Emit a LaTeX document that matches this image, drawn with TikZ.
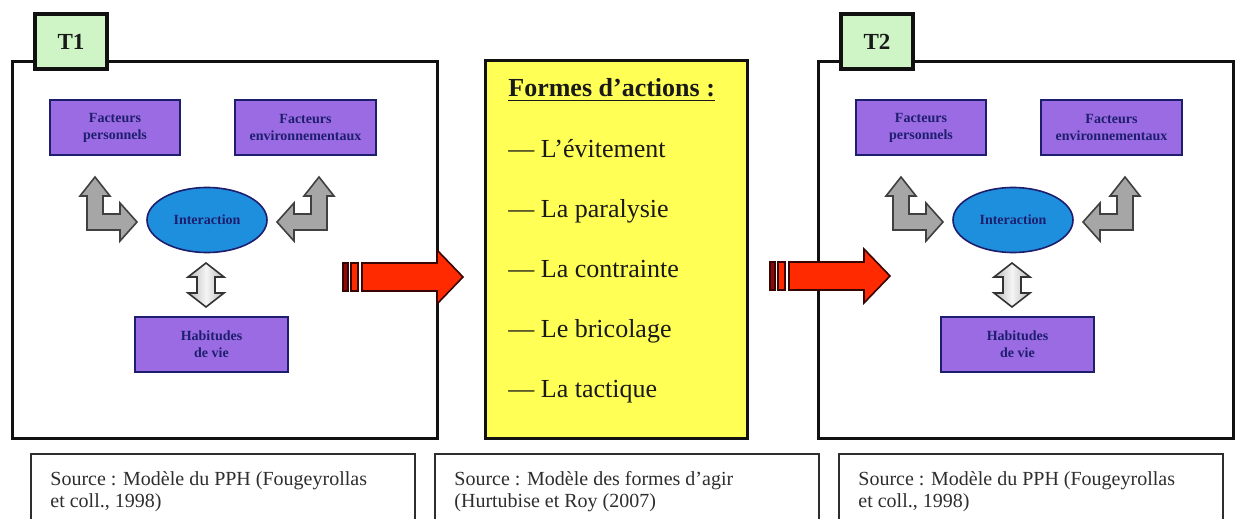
\documentclass[tikz,border=0pt]{standalone}
\usepackage{fontspec}
\setmainfont{Liberation Serif}
\usetikzlibrary{positioning,fit,shapes.geometric}
\definecolor{pphFrame}{HTML}{111111}
\definecolor{pphTab}{HTML}{CFF5C6}
\definecolor{pphPurple}{HTML}{9B6BE3}
\definecolor{pphNavy}{HTML}{1E1E6E}
\definecolor{pphBlue}{HTML}{1E8FDD}
\definecolor{pphGray}{HTML}{A6A6A6}
\definecolor{pphYellow}{HTML}{FFFF55}
\definecolor{pphRed}{HTML}{FF2A00}
\definecolor{pphDark}{HTML}{8C0A0A}
\definecolor{pphText}{HTML}{2E2E2E}
\tikzset{
  bentarrow/.pic={
    \path[bent] (-112,-43) -- (-97,-24) -- (-104,-24) -- (-104,-6) -- (-87,-6) -- (-87,-17)
      -- (-70,2) -- (-87,21) -- (-87,10) -- (-120,10) -- (-120,-24) -- (-127,-24) -- cycle;
  },
  twoway/.pic={
    \path[updown] (0,-22) -- (18,-8) -- (9,-8) -- (9,8) -- (18,8) -- (0,22)
      -- (-18,8) -- (-9,8) -- (-9,-8) -- (-18,-8) -- cycle;
  },
  bigarrow/.pic={
    \path[redpart, fill=pphDark] (0,-14) rectangle (5,14);
    \path[redpart] (8,-14) rectangle (15,14);
    \path[redpart] (19,-14) -- (94,-14) -- (94,-27) -- (120,0) -- (94,27) -- (94,14) -- (19,14) -- cycle;
  }
}

\begin{document}
\begin{tikzpicture}[
  x=0.5pt, y=-0.5pt,
  frame/.style={draw=pphFrame, line width=1.5pt, fill=white, inner sep=0pt},
  tab/.style={draw=pphFrame, line width=1.6pt, fill=pphTab, inner sep=0pt, minimum width=36pt, minimum height=27.5pt, text=black!90, font=\fontsize{11.5}{13}\selectfont\bfseries},
  factor/.style={draw=pphNavy, line width=0.8pt, fill=pphPurple, inner sep=0pt, minimum height=27.5pt, align=center, text=pphNavy, font=\fontsize{7}{8.5}\selectfont\bfseries},
  inter/.style={ellipse, draw=pphNavy, line width=0.8pt, fill=pphBlue, minimum width=60pt, minimum height=32.5pt, inner sep=0pt, text=pphNavy, font=\fontsize{7}{8.5}\selectfont\bfseries},
  bent/.style={draw=black!75, line width=0.8pt, fill=pphGray, line join=miter},
  updown/.style={draw=black!80, line width=0.8pt, left color=gray!55, right color=gray!55, middle color=gray!8},
  redpart/.style={draw=black!60!pphDark, line width=0.8pt, fill=pphRed, line join=miter},
  forms/.style={draw=pphFrame, line width=1.5pt, fill=pphYellow, inner sep=0pt},
  formitem/.style={anchor=base west, inner sep=0pt, text=black!90, font=\fontsize{13}{15}\selectfont},
  source/.style={draw=pphText, line width=0.9pt, inner sep=0pt},
  sourcetext/.style={anchor=north west, inner sep=0pt, align=left, text=pphText, font=\fontsize{10}{11}\selectfont}
]
\path[use as bounding box, clip] (0,0) rectangle (1236,519);
\fill[white] (0,0) rectangle (1236,519);

% the two PPH panels, T1 and T2
\foreach \i/\dx/\fr in {1/0/437, 2/806/427}{
  \begin{scope}[shift={(\dx,0)}]
    \node[frame, fit={(12,62) (\fr,438)}] (frame\i) {};
    \node[tab] (tab\i) at (71,41.5) {T\i};
    \node[factor, minimum width=65pt] (perso\i) at (115,127.5) {Facteurs\\personnels};
    \node[factor, minimum width=70.5pt] (envir\i) at (305.5,127.5) {Facteurs\\environnementaux};
    \node[inter] (inter\i) at (207,220) {Interaction};
    \node[factor, minimum width=76.5pt] (habit\i) at (211.5,344.5) {Habitudes\\de vie};
    \pic at (inter\i.center) {bentarrow};
    \pic[xscale=-1] at (inter\i.center) {bentarrow};
    \pic at (206,285) {twoway};
  \end{scope}
}

% middle column
\node[forms, fit={(485,61) (747,438)}] (forms) {};
\node[formitem, font=\fontsize{13}{15}\selectfont\bfseries] (formtitle) at (508,97) {\underline{Formes d’actions :}};
\foreach \txt [count=\k] in {L’évitement, La paralysie, La contrainte, Le bricolage, La tactique}
  \node[formitem] (form\k) at (508,97+60*\k) {— \txt};

% red block arrows
\coordinate (go1) at (343,277);
\coordinate (go2) at (770,276);
\pic at (go1) {bigarrow};
\pic at (go2) {bigarrow};

% sources
\foreach \j/\x/\txt in {1/31/{Source : Modèle du PPH (Fougeyrollas\\et coll., 1998)},
                        2/435/{Source : Modèle des formes d’agir\\(Hurtubise et Roy (2007)},
                        3/839/{Source : Modèle du PPH (Fougeyrollas\\et coll., 1998)}}{
  \node[source, fit={(\x,454) (\x+384,540)}] (src\j) {};
  \node[sourcetext] (srctext\j) at (\x+19,471) {\txt};
}
\end{tikzpicture}
\end{document}
